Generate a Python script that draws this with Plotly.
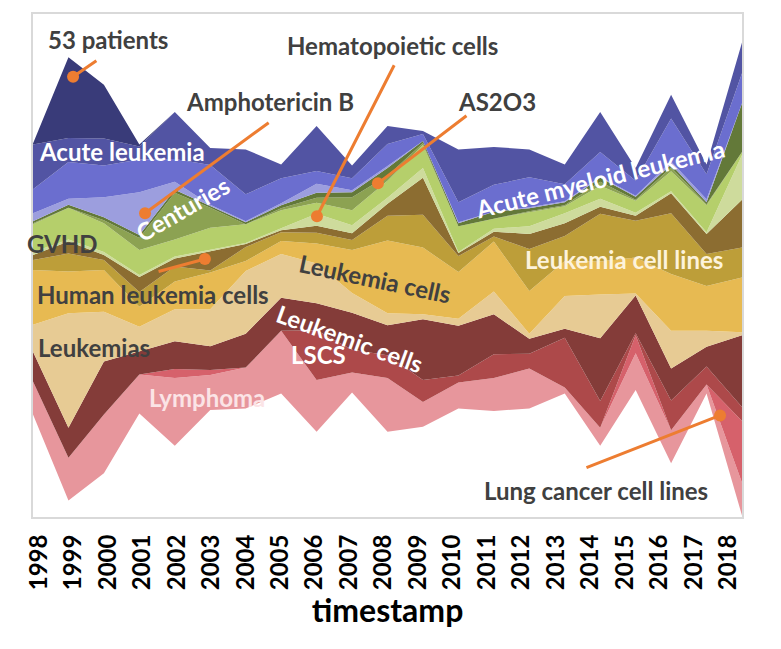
import plotly.graph_objects as go
import numpy as np

years = list(range(1998, 2019))

# one list per topic, 1998..2018 (top of the river first, alphabetical)
patients_53 = [1, 81, 54, 2, 0, 0, 0, 0, 0, 0, 0, 0, 0, 0, 0, 0, 0, 0, 0, 0, 0]
acute_leukemia = [45, 24, 27, 13, 47, 17, 45, 14, 45, 13, 18, 3, 53, 38, 28, 20, 40, 13, 24, 10, 31]
acute_myeloid = [24, 37, 32, 33, 23, 40, 27, 25, 13, 12, 22, 7, 20, 27, 30, 17, 25, 15, 43, 25, 30]
amphotericin = [8, 6, 20, 43, 8, 1, 1, 2, 9, 2, 2, 0, 1, 0, 1, 1, 1, 1, 3, 3, 0]
as2o3 = [2, 3, 3, 3, 3, 2, 2, 3, 5, 5, 8, 2, 3, 7, 3, 3, 4, 3, 3, 2, 49]
centuries = [1, 0, 3, 12, 47, 20, 0, 2, 5, 13, 5, 2, 0, 0, 1, 1, 4, 1, 4, 1, 0]
gvhd = [28, 32, 29, 25, 17, 22, 19, 18, 11, 15, 17, 23, 26, 10, 14, 7, 13, 12, 20, 27, 3]
hematopoietic = [3, 2, 3, 2, 2, 2, 1, 2, 12, 8, 6, 10, 1, 3, 8, 10, 8, 3, 2, 2, 45]
human_cells = [5, 12, 5, 15, 8, 19, 3, 2, 7, 7, 12, 37, 3, 5, 15, 13, 7, 5, 20, 20, 48]
cell_lines = [10, 18, 10, 15, 15, 2, 14, 9, 11, 10, 25, 33, 16, 5, 42, 25, 48, 37, 61, 32, 30]
leukemia_cells = [55, 42, 42, 20, 28, 37, 10, 13, 20, 43, 73, 67, 47, 50, 43, 35, 33, 36, 57, 45, 55]
leukemias = [27, 115, 50, 25, 32, 37, 63, 44, 40, 20, 12, 5, 7, 23, 5, 33, 44, 2, 38, 16, 3]
leukemic_cells = [30, 30, 53, 23, 28, 24, 34, 33, 27, 37, 30, 61, 50, 40, 15, 9, 63, 38, 32, 20, 72]
lscs = [0, 0, 0, 0, 0, 0, 0, 0, 50, 23, 23, 22, 7, 24, 15, 50, 27, 2, 30, 18, 14]
lung_cancer = [0, 0, 0, 0, 9, 5, 0, 0, 0, 0, 0, 0, 0, 0, 0, 0, 0, 18, 0, 0, 62]
lymphoma = [33, 43, 59, 39, 68, 35, 41, 63, 52, 20, 54, 25, 26, 33, 40, 6, 18, 37, 33, 9, 33]

names = ["53 patients", "Acute leukemia", "Acute myeloid leukemia", "Amphotericin B",
         "AS2O3", "Centuries", "GVHD", "Hematopoietic cells", "Human leukemia cells",
         "Leukemia cell lines", "Leukemia cells", "Leukemias", "Leukemic cells", "LSCS",
         "Lung cancer cell lines", "Lymphoma"]
series = [patients_53, acute_leukemia, acute_myeloid, amphotericin, as2o3, centuries, gvhd,
          hematopoietic, human_cells, cell_lines, leukemia_cells, leukemias, leukemic_cells,
          lscs, lung_cancer, lymphoma]
colors = ["#393b79", "#5254a3", "#6b6ecf", "#9c9ede", "#637939", "#8ca252", "#b5cf6b",
          "#cedb9c", "#8c6d31", "#bd9e39", "#e7ba52", "#e7cb94", "#843c39", "#ad494a",
          "#d6616b", "#e7969c"]

# label text, x (year), y (value), angle, colour
labels = [
    ("53 patients", 2000.12, 240, 0, "#404040"),
    ("Hematopoietic cells", 2008.13, 234, 0, "#404040"),
    ("Amphotericin B", 2004.69, 178, 0, "#404040"),
    ("AS2O3", 2011.09, 178, 0, "#404040"),
    ("Acute leukemia", 2000.51, 128, 0, "white"),
    ("GVHD", 1998.82, 36, 0, "#404040"),
    ("Centuries", 2002.23, 71, -30, "white"),
    ("Human leukemia cells", 2001.39, -16, 0, "#404040"),
    ("Leukemia cells", 2007.65, 0, 12, "#404040"),
    ("Leukemias", 1999.72, -69, 0, "#404040"),
    ("Leukemic cells", 2006.94, -60, 20, "white"),
    ("LSCS", 2006.04, -76, 0, "white"),
    ("Lymphoma", 2002.91, -119, 0, "#fbe4e6"),
    ("Acute myeloid leukemia", 2013.99, 101, -14, "white"),
    ("Leukemia cell lines", 2014.67, 20, 0, "#fdf3dc"),
    ("Lung cancer cell lines", 2013.88, -212, 0, "#404040"),
]

# callouts: dot (x, y) -> line end (x, y)
callouts = [
    (1999.13, 203, 1999.83, 220),
    (2006.01, 63, 2008.21, 216),
    (2001.16, 66, 2004.69, 158),
    (2007.73, 96, 2010.27, 165),
    (2002.85, 20, 2001.50, 7),
    (2017.38, -137, 2013.57, -190),
]

vals = np.array(series, dtype=float)
total = vals.sum(axis=0)
base = -total / 2

fig = go.Figure()
fig.add_trace(go.Scatter(x=years, y=base, mode="lines", line=dict(width=0),
                         showlegend=False, hoverinfo="skip"))
cum = base.copy()
for i in range(len(series) - 1, -1, -1):
    cum = cum + vals[i]
    fig.add_trace(go.Scatter(x=years, y=cum, mode="lines", line=dict(width=0),
                             fill="tonexty", fillcolor=colors[i], name=names[i],
                             showlegend=False))

for text, x, y, ang, col in labels:
    fig.add_annotation(x=x, y=y, text=text, showarrow=False, textangle=ang,
                       font=dict(size=24, color=col, family="Lato", weight="bold"))

for x0, y0, x1, y1 in callouts:
    fig.add_annotation(x=x0, y=y0, ax=x1, ay=y1, axref="x", ayref="y", text="",
                       showarrow=True, arrowhead=6, arrowsize=1.0, arrowwidth=3,
                       arrowcolor="#ed7d31")

# year labels sit on a slightly narrower spacing than the river itself
tick_pos = [1998.17 + i * 0.972 for i in range(len(years))]

fig.update_layout(
    width=773, height=641,
    margin=dict(l=25, r=39, t=4, b=132),
    plot_bgcolor="white", paper_bgcolor="white",
    font=dict(family="Lato"),
    showlegend=False,
)
fig.update_xaxes(range=[1998, 2018], tickvals=tick_pos, ticktext=[str(y) for y in years],
                 tickangle=-90, ticks="", ticklabelstandoff=6,
                 tickfont=dict(size=24, color="black", weight="bold"),
                 showgrid=False, zeroline=False, showline=True, mirror=True,
                 linecolor="#d9d9d9", linewidth=2,
                 title=dict(text="timestamp", standoff=8,
                            font=dict(size=32, color="black", weight="bold")))
fig.update_yaxes(range=[-239, 266], showticklabels=False, showgrid=False, zeroline=False,
                 showline=True, mirror=True, linecolor="#d9d9d9", linewidth=2)

fig.write_html("out.html")
